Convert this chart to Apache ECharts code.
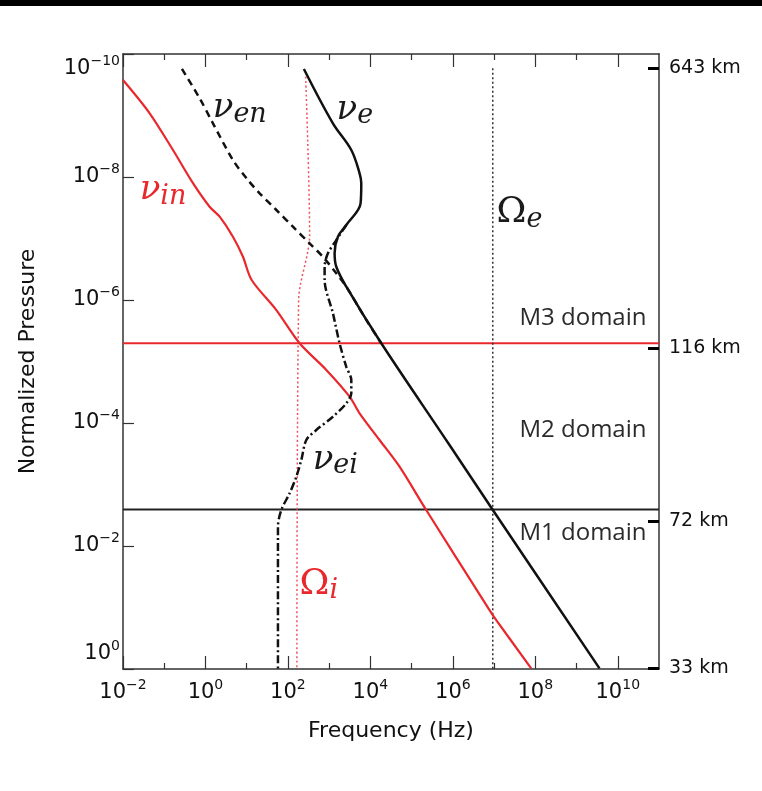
<!DOCTYPE html>
<html lang="en">
<head>
  <meta charset="UTF-8">
  <script src="https://cdn.jsdelivr.net/npm/echarts@6/dist/echarts.min.js"></script>
  <title>Collision frequencies</title>
  <style>
    html, body { margin: 0; padding: 0; background: #fff; }
    #chart { width: 762px; height: 791px; }
  </style>
</head>
<body>
  <div id="chart"></div>
  <script>
    // axis ranges and ticks
    const freqMin = 1e-2, freqMax = 1e11;
    const presMin = 1e-10, presMax = 1;
    const freqMajor = [1e-2, 1, 1e2, 1e4, 1e6, 1e8, 1e10];
    const freqMinor = [1e-1, 1e1, 1e3, 1e5, 1e7, 1e9];
    const presMajor = [1e-10, 1e-8, 1e-6, 1e-4, 1e-2, 1];
    const kmLabels = ['643 km', '116 km', '72 km', '33 km'];
    const kmPres = [1.69e-10, 6.03e-6, 3.93e-3, 0.963];

    // nu_e (solid black)
    const nuEFreq = [244, 1233, 3444, 5470, 6010, 5780, 2606, 1630, 1356, 1490, 2606, 18370, 8.3e5, 9.33e6, 3.6e9];
    const nuEPres = [1.75e-10, 1.34e-9, 3.64e-9, 8.7e-9, 1.26e-8, 2.68e-8, 6.03e-8, 9.35e-8, 1.74e-7, 2.88e-7, 6.08e-7, 5.06e-6, 2.28e-4, 2.6e-3, 0.975];
    // nu_en (dashed)
    const nuEnFreq = [0.269, 0.723, 1.52, 4.64, 10.7, 20.6, 52.4, 132, 336, 705, 1490, 2606, 7940, 18370];
    const nuEnPres = [1.75e-10, 5.25e-10, 1.34e-9, 5.3e-9, 1.12e-8, 1.84e-8, 3.44e-8, 6.43e-8, 1.2e-7, 1.98e-7, 3.68e-7, 6.08e-7, 2.11e-6, 5.06e-6];
    // nu_ei (dash-dot)
    const nuEiFreq = [2606, 1490, 933, 776, 776, 1233, 1790, 2606, 3444, 3444, 2606, 1233, 488, 279, 211, 160, 110, 69, 57.3, 57.3];
    const nuEiPres = [6.03e-8, 1.06e-7, 1.74e-7, 2.88e-7, 4.73e-7, 1.64e-6, 5.06e-6, 1.22e-5, 2.0e-5, 3.29e-5, 4.79e-5, 7.9e-5, 1.3e-4, 1.89e-4, 4.0e-4, 7.46e-4, 1.39e-3, 2.6e-3, 4.85e-3, 1];
    // nu_in (red)
    const nuInFreq = [0.01, 0.0443, 0.163, 0.498, 1.26, 2.21, 4.64, 8.11, 13.2, 52.4, 192, 853, 3133, 5470, 16700, 51000, 2.26e5, 7.76e6, 1.13e7, 7.94e7];
    const nuInPres = [2.65e-10, 9.2e-10, 3.64e-9, 1.26e-8, 3.04e-8, 4.42e-8, 9.35e-8, 1.98e-7, 4.73e-7, 1.46e-6, 5.06e-6, 1.37e-5, 3.73e-5, 6.95e-5, 1.89e-4, 5.13e-4, 2.6e-3, 0.11, 0.16, 0.975];
    // gyro frequencies
    const omegaIFreq = [269, 336, 182, 165];
    const omegaIPres = [2.34e-10, 8.77e-8, 1e-6, 1];
    const omegaEFreq = [9.3e6, 9.3e6];
    const omegaEPres = [1.7e-10, 1];
    // domain boundaries
    const m3Boundary = 5.06e-6;
    const m1Boundary = 2.55e-3;

    // text labels
    const blackNames = ['{g|ν}{s|en}', '{g|ν}{s|e}', '{o|Ω}{s|e}', '{g|ν}{s|ei}'];
    const blackFreq = [1.5, 1514, 1.15e7, 398];
    const blackPres = [7.55e-10, 8.1e-10, 3.85e-8, 3.98e-4];
    const redNames = ['{g|ν}{s|in}', '{o|Ω}{s|i}'];
    const redFreq = [0.0254, 192];
    const redPres = [1.63e-8, 0.043];
    const domainNames = ['M3 domain', 'M2 domain', 'M1 domain'];
    const domainFreq = [4.97e10, 4.97e10, 4.97e10];
    const domainPres = [1.96e-6, 1.3e-4, 6.15e-3];

    const RED = '#e8282c';
    const INK = '#111';
    const axisFont = 'DejaVu Sans';

    const toPairs = (fs, ps) => fs.map((f, i) => [f, ps[i]]);

    const powLabel = v => {
      const e = Math.round(Math.log10(v));
      return '{b|10}{s|' + String(e).replace('-', '\u2212') + '}';
    };
    const powRich = {
      b: { fontSize: 21, lineHeight: 30, fontFamily: axisFont, color: INK },
      s: { fontSize: 14, lineHeight: 14, verticalAlign: 'top', fontFamily: axisFont, color: INK }
    };

    function freqAxis(position, ticks, len, showLine, showLabel) {
      return {
        type: 'log', position: position, min: freqMin, max: freqMax,
        axisLine: { show: showLine, onZero: false, lineStyle: { color: '#333', width: 1.5 } },
        splitLine: { show: false },
        axisTick: { inside: true, length: len, customValues: ticks, lineStyle: { color: '#333', width: 1.2 } },
        axisLabel: showLabel ? {
          customValues: freqMajor, margin: 9, formatter: powLabel, rich: powRich
        } : { show: false }
      };
    }

    const xAxes = [
      freqAxis('bottom', freqMajor, 13, true, true),
      freqAxis('bottom', freqMinor, 6, false, false),
      freqAxis('top', freqMajor, 13, true, false),
      freqAxis('top', freqMinor, 6, false, false)
    ];
    xAxes[0].name = 'Frequency (Hz)';
    xAxes[0].nameLocation = 'middle';
    xAxes[0].nameGap = 51;
    xAxes[0].nameTextStyle = { fontSize: 22, fontFamily: axisFont, color: INK };

    const yAxes = [
      {
        type: 'log', position: 'left', inverse: true, min: presMin, max: presMax,
        name: 'Normalized Pressure', nameLocation: 'middle', nameGap: 84,
        nameTextStyle: { fontSize: 22, fontFamily: axisFont, color: INK },
        axisLine: { show: true, onZero: false, lineStyle: { color: '#333', width: 1.5 } },
        splitLine: { show: false },
        axisTick: { inside: true, length: 11, customValues: presMajor, lineStyle: { color: '#333', width: 1.2 } },
        axisLabel: {
          customValues: presMajor, margin: 3, formatter: powLabel, rich: powRich,
          verticalAlignMinLabel: 'top', verticalAlignMaxLabel: 'bottom'
        }
      },
      {
        type: 'log', position: 'right', inverse: true, min: presMin, max: presMax,
        axisLine: { show: true, onZero: false, lineStyle: { color: '#333', width: 1.5 } },
        splitLine: { show: false },
        axisTick: { inside: true, length: 11, customValues: kmPres, lineStyle: { color: '#000', width: 3 } },
        axisLabel: {
          customValues: kmPres, margin: 10, padding: [0, 0, 13, 0],
          fontSize: 19, fontFamily: axisFont, color: INK,
          formatter: v => {
            let best = 0;
            kmPres.forEach((p, i) => {
              if (Math.abs(Math.log10(p) - Math.log10(v)) < Math.abs(Math.log10(kmPres[best]) - Math.log10(v))) best = i;
            });
            return kmLabels[best];
          }
        }
      }
    ];

    function curve(fs, ps, color, width, type, smooth) {
      return {
        type: 'line', data: toPairs(fs, ps), showSymbol: false, symbol: 'none',
        smooth: smooth, silent: true,
        lineStyle: { color: color, width: width, type: type }
      };
    }

    function greekRich(color) {
      return {
        g: { fontFamily: 'DejaVu Serif', fontStyle: 'italic', fontSize: 34, lineHeight: 40, color: color },
        o: { fontFamily: 'DejaVu Serif', fontSize: 36, lineHeight: 40, color: color },
        s: { fontFamily: 'DejaVu Serif', fontStyle: 'italic', fontSize: 27, lineHeight: 32, verticalAlign: 'bottom', color: color }
      };
    }

    function labels(names, fs, ps, color, position, rich, font) {
      return {
        type: 'scatter', symbolSize: 0, silent: true,
        itemStyle: { opacity: 1 },
        data: names.map((n, i) => ({ value: [fs[i], ps[i]], name: n })),
        label: Object.assign({
          show: true, position: position, distance: 0, color: color,
          formatter: p => p.name, rich: rich
        }, font || {})
      };
    }

    const chart = echarts.init(document.getElementById('chart'), null, { renderer: 'canvas' });
    chart.setOption({
      animation: false,
      backgroundColor: '#fff',
      grid: { left: 123, top: 54, width: 536, height: 615 },
      graphic: [{ type: 'rect', left: 0, top: 0, shape: { width: 762, height: 6 }, style: { fill: '#000' } }],
      xAxis: xAxes,
      yAxis: yAxes,
      series: [
        curve([freqMin, freqMax], [m3Boundary, m3Boundary], RED, 2, 'solid', false),
        curve([freqMin, freqMax], [m1Boundary, m1Boundary], '#222', 2, 'solid', false),
        curve(omegaEFreq, omegaEPres, '#333', 1.5, [2, 2.5], false),
        curve(omegaIFreq, omegaIPres, '#f0505a', 1.5, [2, 2.5], 0.3),
        curve(nuInFreq, nuInPres, RED, 2.2, 'solid', 0.3),
        curve(nuEnFreq, nuEnPres, INK, 2.5, [7, 5], 0.3),
        curve(nuEiFreq, nuEiPres, INK, 2.5, [8, 3, 2, 3], 0.3),
        curve(nuEFreq, nuEPres, INK, 2.5, 'solid', 0.35),
        labels(blackNames, blackFreq, blackPres, '#1a1a1a', 'right', greekRich('#1a1a1a')),
        labels(redNames, redFreq, redPres, RED, 'right', greekRich(RED)),
        labels(domainNames, domainFreq, domainPres, '#2b2b2b', 'left', null,
          { fontFamily: 'Open Sans', fontSize: 24 })
      ]
    });
  </script>
</body>
</html>
